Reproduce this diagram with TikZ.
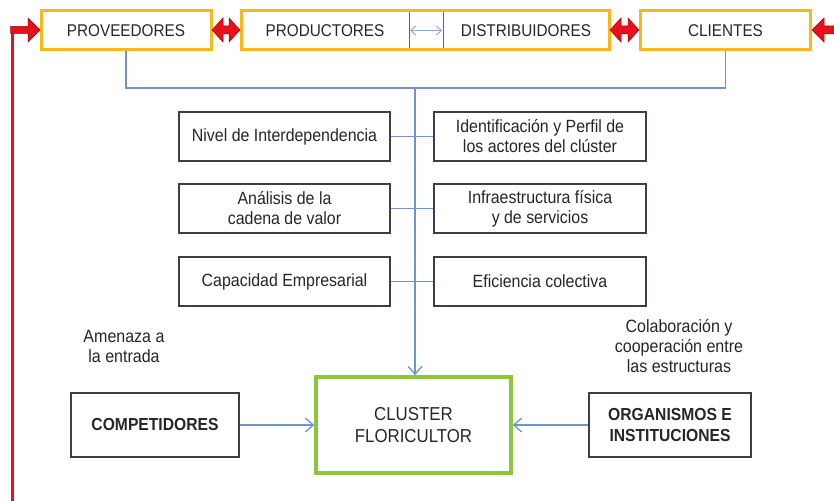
\documentclass[tikz,border=0pt]{standalone}
\usepackage{fontspec}
\setmainfont{Liberation Sans}[FakeStretch=0.9]
\usetikzlibrary{arrows.meta}
\definecolor{gold}{HTML}{F7B81A}
\definecolor{conn}{HTML}{6F93D2}
\definecolor{boxc}{HTML}{3E3E48}
\definecolor{grn}{HTML}{8CC63F}
\definecolor{redc}{HTML}{E8101A}
\definecolor{txt}{HTML}{262626}
\tikzset{
  topbox/.style={draw=gold, line width=3pt, minimum width=170pt, minimum height=39pt, inner sep=0pt, text=txt, font=\fontsize{17}{19}\selectfont},
  midbox/.style={draw=boxc, line width=1.2pt, minimum height=49pt, inner sep=0pt, align=center, text=txt, font=\fontsize{17.7}{20}\selectfont},
  botbox/.style={draw=boxc, line width=1.2pt, minimum height=64pt, inner sep=0pt, align=center, text=txt, font=\bfseries\fontsize{17.4}{21}\selectfont},
  label/.style={align=center, text=txt, font=\fontsize{17.8}{20}\selectfont, inner sep=0pt},
  conline/.style={draw=conn, line width=1.7pt},
  conarrow/.style={conline, -{Straight Barb[length=8pt,width=14pt,line width=1.3pt]}},
  blockarrow/.style={fill=redc, draw=red!60!black, line width=0.5pt},
}
\begin{document}
\begin{tikzpicture}[x=1pt,y=-1pt]
\useasboundingbox (0,0) rectangle (834,500);
% top row
\node[topbox] (prov) at (126,30.5) {PROVEEDORES};
\node[topbox, draw=none, minimum width=168pt] (prod) at (325,30.5) {PRODUCTORES};
\node[topbox, draw=none, minimum width=166pt] (dist) at (526,30.5) {DISTRIBUIDORES};
\draw[gold, line width=3pt] (241,11) rectangle (609,50);
\draw[boxc!80, line width=0.8pt] (409,12.5) -- (409,48.5) (443,12.5) -- (443,48.5);
\coordinate (pd1) at (410,30.5);
\coordinate (pd2) at (442,30.5);
\draw[conn!80, line width=0.9pt, {Straight Barb[length=5pt,width=9pt]}-{Straight Barb[length=5pt,width=9pt]}] (pd1) -- (pd2);
\node[topbox] (cli) at (725.5,30.5) {CLIENTES};
% red block arrows
\draw[blockarrow] (212,30)--(223,18)--(223,26)--(229,26)--(229,18)--(240,30)--(229,42)--(229,34)--(223,34)--(223,42)--cycle;
\draw[blockarrow] (610,30)--(621,18)--(621,26)--(628,26)--(628,18)--(639,30)--(628,42)--(628,34)--(621,34)--(621,42)--cycle;
\draw[blockarrow] (812,30)--(824,18)--(824,26)--(834,26)--(834,34)--(824,34)--(824,42)--cycle;
\draw[redc, line width=3pt] (12,501) -- (12,30);
\draw[blockarrow] (10.5,26.5)--(28,26.5)--(28,18)--(40,30)--(28,42)--(28,33.5)--(10.5,33.5)--cycle;
% middle boxes
\node[midbox, minimum width=211pt] (niv) at (284.5,136.5) {Nivel de Interdependencia};
\node[midbox, minimum width=212pt] (ide) at (540,136.5) {Identificación y Perfil de\\los actores del clúster};
\node[midbox, minimum width=211pt] (ana) at (284.5,208.5) {Análisis de la\\cadena de valor};
\node[midbox, minimum width=212pt] (inf) at (540,208.5) {Infraestructura física\\y de servicios};
\node[midbox, minimum width=211pt] (cap) at (284.5,281.5) {Capacidad Empresarial};
\node[midbox, minimum width=212pt] (efi) at (540,281.5) {Eficiencia colectiva};
% bottom
\node[draw=grn, line width=3.5pt, minimum width=195pt, minimum height=96pt, inner sep=0pt, align=center, text=txt, font=\fontsize{18.7}{22}\selectfont] (clu) at (413.5,425) {CLUSTER\\FLORICULTOR};
\node[botbox, minimum width=168pt] (com) at (155,425) {COMPETIDORES};
\node[botbox, minimum width=162pt] (org) at (670,425) {ORGANISMOS E\\INSTITUCIONES};
\node[label] (ame) at (124,346) {Amenaza a\\la entrada};
\node[label] (col) at (679,346) {Colaboración y\\cooperación entre\\las estructuras};
% connectors
\coordinate (bus) at (415,88);
\draw[conline] (prov.south) |- (bus) -| (cli.south);
\draw[conarrow] (bus) -- (bus |- clu.north);
\draw[conline] (niv.east) -- (ide.west);
\draw[conline] (ana.east) -- (inf.west);
\draw[conline] (cap.east) -- (efi.west);
\draw[conarrow] (com.east) -- (clu.west);
\draw[conarrow] (org.west) -- (clu.east);
\end{tikzpicture}
\end{document}
